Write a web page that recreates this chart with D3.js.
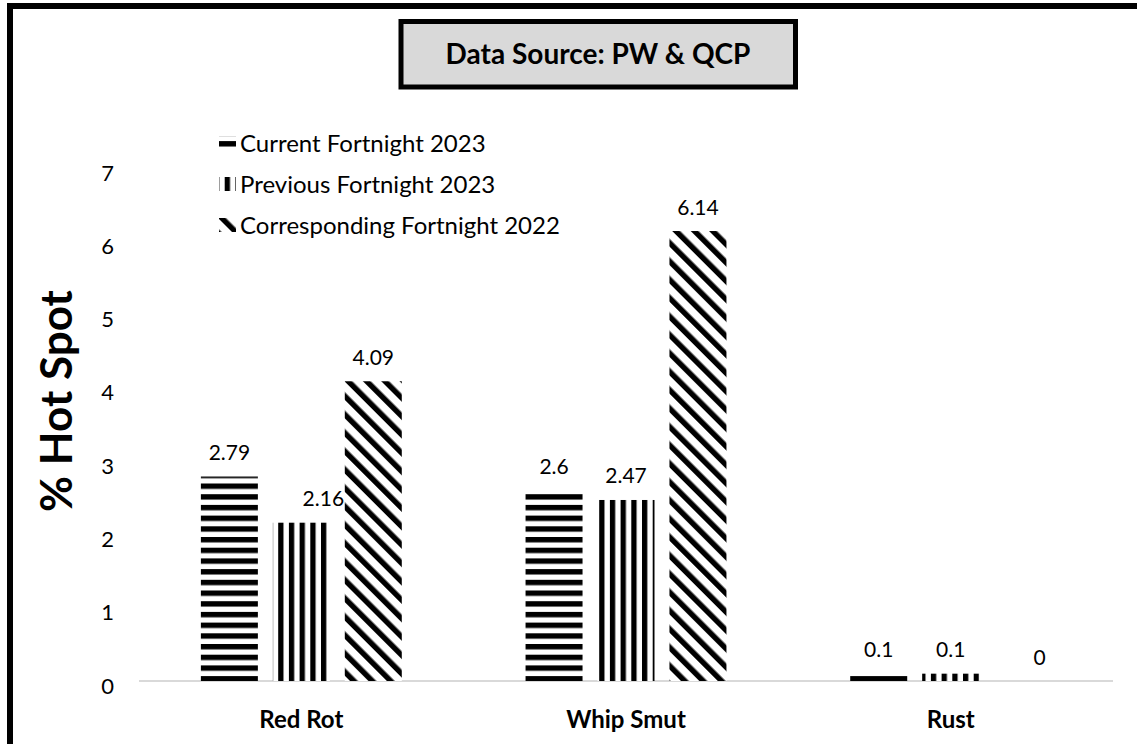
<!DOCTYPE html>
<html><head><meta charset="utf-8">
<script src="https://cdn.jsdelivr.net/npm/d3@7"></script>
<style>body{margin:0;background:#fff}svg{display:block}text{font-family:Lato,"Open Sans",sans-serif}</style>
</head><body><svg id="c" width="1137" height="744"></svg>
<script>
const categories = ["Red Rot", "Whip Smut", "Rust"];
const seriesNames = ["Current Fortnight 2023", "Previous Fortnight 2023", "Corresponding Fortnight 2022"];
const currentFortnight2023 = [2.79, 2.6, 0.1];
const previousFortnight2023 = [2.16, 2.47, 0.1];
const correspondingFortnight2022 = [4.09, 6.14, 0];
const yTicks = [0, 1, 2, 3, 4, 5, 6, 7];
const titleText = "Data Source: PW & QCP";
const yTitle = "% Hot Spot";

const seriesValues = [currentFortnight2023, previousFortnight2023, correspondingFortnight2022];
const patternIds = ["pH", "pV", "pD"];

const svg = d3.select("#c");
const defs = svg.append("defs");
// horizontal stripes
const pH = defs.append("pattern").attr("id","pH").attr("patternUnits","userSpaceOnUse").attr("y",2).attr("width",10).attr("height",10.7);
pH.append("rect").attr("width",10).attr("height",10.7).attr("fill","#fff");
pH.append("rect").attr("y",0).attr("width",10).attr("height",5.4).attr("fill","#000");
// vertical stripes
const pV = defs.append("pattern").attr("id","pV").attr("patternUnits","userSpaceOnUse").attr("width",10.7).attr("height",10);
pV.append("rect").attr("width",10.7).attr("height",10).attr("fill","#fff");
pV.append("rect").attr("x",0).attr("width",5.3).attr("height",10).attr("fill","#000");
// diagonal stripes "\"
const pD = defs.append("pattern").attr("id","pD").attr("patternUnits","userSpaceOnUse").attr("width",13).attr("height",10).attr("patternTransform","rotate(-45)");
pD.append("rect").attr("width",13).attr("height",10).attr("fill","#fff");
pD.append("rect").attr("x",0).attr("width",5.5).attr("height",10).attr("fill","#000");

// outer frame
svg.append("rect").attr("x",10).attr("y",6).attr("width",1140).attr("height",760)
  .attr("fill","#fff").attr("stroke","#000").attr("stroke-width",6);

const x0 = d3.scaleBand().domain(categories).range([139, 1113]).padding(0);
const x1 = d3.scaleBand().domain(seriesNames).range([0, x0.bandwidth()]).paddingInner(0.208).paddingOuter(0.86);
const y = d3.scaleLinear().domain([0, 7]).range([681, 168]);

// y axis labels
const yAxis = d3.axisLeft(y).tickValues(yTicks).tickSize(0).tickPadding(0).tickFormat(d3.format("d"));
const yg = svg.append("g").attr("transform","translate(114,0)").call(yAxis);
yg.select(".domain").remove();
yg.selectAll("text").attr("font-size",22).attr("fill","#000").attr("dy","0.55em")
  .style("font-family","Lato, sans-serif");

// baseline
svg.append("line").attr("x1",139).attr("x2",1113).attr("y1",y(0)).attr("y2",y(0))
  .attr("stroke","#d9d9d9").attr("stroke-width",2);

// x axis labels
const xAxis = d3.axisBottom(x0).tickSize(0).tickPadding(0);
const xg = svg.append("g").attr("transform",`translate(0,${y(0)})`).call(xAxis);
xg.select(".domain").remove();
xg.selectAll("text").attr("font-size",24).attr("font-weight","bold").attr("fill","#000")
  .attr("y",47).attr("dy",0).style("font-family","Lato, sans-serif");

// bars + labels, series by series
seriesNames.forEach((s, si) => {
  const g = svg.append("g");
  const vals = seriesValues[si];
  const rows = categories.map((c,i)=>({c, v: vals[i]}));
  g.selectAll("rect").data(rows).join("rect")
    .attr("x", d => x0(d.c) + x1(s))
    .attr("width", x1.bandwidth())
    .attr("y", d => y(d.v))
    .attr("height", d => y(0) - y(d.v))
    .attr("fill", `url(#${patternIds[si]})`);
  g.selectAll("text").data(rows).join("text")
    .attr("x", d => x0(d.c) + x1(s) + x1.bandwidth()/2 + ((si===1 && d.c==="Red Rot") ? 22 : 0) + (d.v===0 ? 17 : 0))
    .attr("y", d => y(d.v) - 16.5)
    .attr("text-anchor","middle").attr("font-size",21).attr("fill","#000")
    .text(d => d.v);
});

// legend
const lg = svg.append("g");
seriesNames.forEach((s, i) => {
  const ly = 143 + i * 41;
  lg.append("rect").attr("x",219).attr("y",ly-7).attr("width",17).attr("height",14).attr("fill",`url(#${patternIds[i]})`);
  lg.append("text").attr("x",240).attr("y",ly).attr("dy","0.36em").attr("font-size",24).attr("fill","#000").text(s);
});

// title box
svg.append("rect").attr("x",401).attr("y",21.5).attr("width",394.5).attr("height",65.5)
  .attr("fill","#d9d9d9").attr("stroke","#000").attr("stroke-width",5);
svg.append("text").attr("x",598).attr("y",54).attr("dy","0.36em").attr("text-anchor","middle")
  .attr("font-size",28).attr("font-weight","bold").attr("fill","#000").text(titleText);

// y title
svg.append("text").attr("transform","translate(56,401) rotate(-90)").attr("dy","0.36em")
  .attr("text-anchor","middle").attr("font-size",44).attr("font-weight","bold").attr("fill","#000").text(yTitle);
</script></body></html>
